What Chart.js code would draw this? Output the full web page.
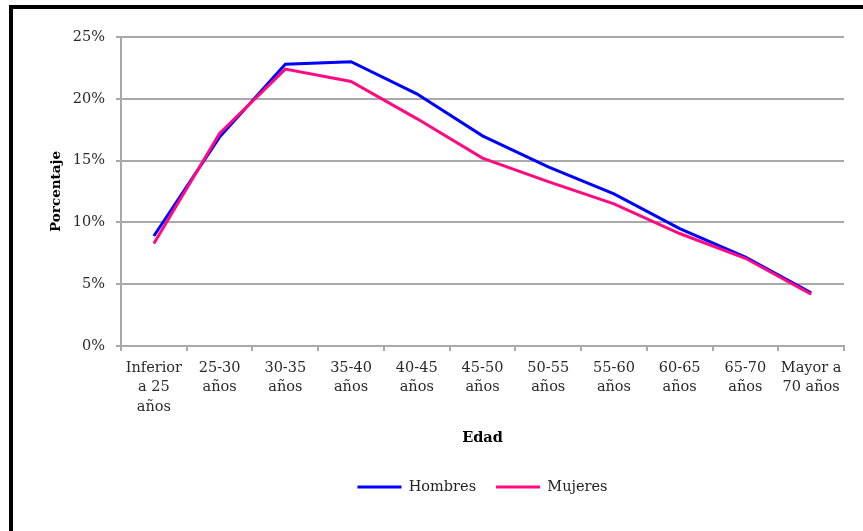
<!DOCTYPE html>
<html>
<head>
<meta charset="utf-8">
<script src="https://cdn.jsdelivr.net/npm/chart.js@4"></script>
<style>
  body { margin: 0; background: #fff; }
  #wrap { position: relative; width: 863px; height: 531px; overflow: hidden; }
  #frame { position: absolute; left: 9px; top: 5px; width: 900px; height: 600px;
           border-top: 4px solid #000; border-left: 4px solid #000; pointer-events: none; }
</style>
</head>
<body>
<div id="wrap">
  <canvas id="myChart" width="863" height="531"></canvas>
  <div id="frame"></div>
</div>
<script>
'use strict';
// age groups (x axis)
const edades = [
  ['Inferior', 'a 25', 'años'],
  ['25-30', 'años'],
  ['30-35', 'años'],
  ['35-40', 'años'],
  ['40-45', 'años'],
  ['45-50', 'años'],
  ['50-55', 'años'],
  ['55-60', 'años'],
  ['60-65', 'años'],
  ['65-70', 'años'],
  ['Mayor a', '70 años']
];
// percentages
const hombres = [8.9, 16.9, 22.8, 23.0, 20.4, 17.0, 14.5, 12.3, 9.5, 7.2, 4.3];
const mujeres = [8.3, 17.2, 22.4, 21.4, 18.4, 15.2, 13.3, 11.5, 9.1, 7.1, 4.2];
const yMin = 0;
const yMax = 25;
const yStep = 5;

const fuente = 'DejaVu Serif';
const gris = '#a9a9a9';

const ctx = document.getElementById('myChart').getContext('2d');
const chart = new Chart(ctx, {
  type: 'line',
  data: {
    labels: edades,
    datasets: [{
      label: 'Hombres',
      data: hombres,
      borderColor: '#0000ff',
      backgroundColor: '#0000ff',
      borderWidth: 3,
      pointRadius: 0,
      tension: 0,
      order: 2
    },
    {
      label: 'Mujeres',
      data: mujeres,
      borderColor: '#ff0a80',
      backgroundColor: '#ff0a80',
      borderWidth: 3,
      pointRadius: 0,
      tension: 0,
      order: 1
    }]
  },
  options: {
    responsive: false,
    animation: false,
    layout: { padding: { left: 44, right: 19, top: 37, bottom: 26.75 } },
    plugins: {
      tooltip: { enabled: false },
      legend: {
        position: 'bottom',
        fullSize: false,
        labels: {
          usePointStyle: true,
          pointStyle: 'line',
          pointStyleWidth: 44,
          padding: 20,
          color: '#222',
          font: { family: fuente, size: 14.5 },
          sort: (a, b) => a.datasetIndex - b.datasetIndex
        }
      }
    },
    scales: {
      x: {
        offset: true,
        afterFit: (scale) => { scale.height = 113.75; },
        grid: { offset: true, drawOnChartArea: false, color: gris, lineWidth: 2, tickLength: 5 },
        border: { color: gris, width: 2 },
        ticks: {
          autoSkip: false, maxRotation: 0, minRotation: 0, padding: 7,
          color: '#2a2a2a',
          font: { family: fuente, size: 14.5, lineHeight: 1.35 }
        },
        title: {
          display: true, text: 'Edad', color: '#000',
          padding: { top: 0, bottom: 13 },
          font: { family: fuente, size: 14.5, weight: 'bold' }
        }
      },
      y: {
        min: yMin,
        max: yMax,
        afterFit: (scale) => { scale.width = 77; },
        grid: { color: gris, lineWidth: 2, tickLength: 5 },
        border: { color: gris, width: 2 },
        ticks: {
          stepSize: yStep, padding: 11, color: '#2a2a2a',
          font: { family: fuente, size: 14.5 },
          callback: (v) => v + '%'
        },
        title: {
          display: true, text: 'Porcentaje', color: '#000',
          padding: { top: 4, bottom: 0 },
          font: { family: fuente, size: 13.5, weight: 'bold' }
        }
      }
    }
  }
});
</script>
</body>
</html>
